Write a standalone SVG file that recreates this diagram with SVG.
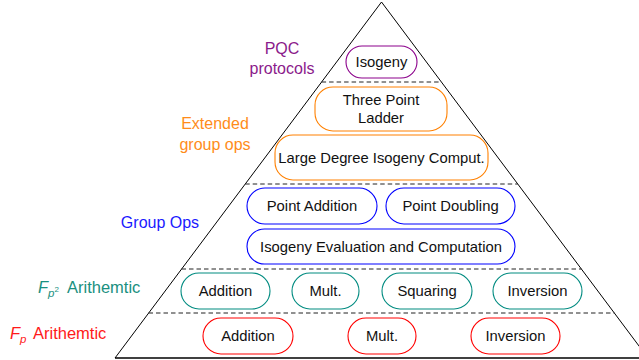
<svg xmlns="http://www.w3.org/2000/svg" width="639" height="360" viewBox="0 0 639 360">
<style>
text{font-family:"Liberation Sans",Arial,sans-serif;font-size:14.8px;fill:#111;text-anchor:middle}
.n rect{fill:none;stroke-width:1.1}
.pq rect{stroke:#8B008B}.or rect{stroke:#FF8000}.bl rect{stroke:#0000FF}.tl rect{stroke:#008B80}.rd rect{stroke:#FF0000}
.lab{font-size:16px}
.lab2{font-size:16.5px}
.dash{stroke:#222;stroke-width:1;stroke-dasharray:4.5 3;fill:none}
.it{font-style:italic}
</style>
<rect width="639" height="360" fill="#fff"/>
<g id="pyramid">
<polyline points="115,358 381.5,2 648,358" fill="none" stroke="#000" stroke-width="1"/>
<line x1="115" y1="358" x2="639" y2="358" stroke="#000" stroke-width="1.3"/>
<line class="dash" x1="321.6" y1="82" x2="441.4" y2="82"/>
<line class="dash" x1="245.2" y1="184" x2="517.8" y2="184"/>
<line class="dash" x1="181.5" y1="269" x2="581.5" y2="269"/>
<line class="dash" x1="148.5" y1="313" x2="614.5" y2="313"/>
</g>
<g id="labels">
<text class="lab" x="282" y="54" style="fill:#8B1A8B">PQC</text>
<text class="lab" x="282" y="74" style="fill:#8B1A8B">protocols</text>
<text class="lab" x="215" y="129" style="fill:#FF8C1A">Extended</text>
<text class="lab" x="215" y="150" style="fill:#FF8C1A">group ops</text>
<text class="lab" x="160" y="228" style="fill:#1A1AFF">Group Ops</text>
<text class="lab2" x="38" y="293" style="fill:#1A9080;text-anchor:start"><tspan class="it">F</tspan><tspan class="it" font-size="11.5" dy="4">p</tspan><tspan font-size="8" dy="-5.5">2</tspan><tspan x="67" dy="1.5">Arithemtic</tspan></text>
<text class="lab2" x="10" y="339" style="fill:#FF1A1A;text-anchor:start"><tspan class="it">F</tspan><tspan class="it" font-size="11.5" dy="4">p</tspan><tspan x="33" dy="-4">Arithemtic</tspan></text>
</g>
<g id="n-isogeny" class="n pq"><rect x="346" y="46" width="71" height="32" rx="16"/><text x="381.5" y="67">Isogeny</text></g>
<g id="n-ladder" class="n or"><rect x="315" y="87" width="132" height="44" rx="18"/><text x="381" y="105">Three Point</text><text x="381" y="123">Ladder</text></g>
<g id="n-large" class="n or"><rect x="275" y="135" width="213" height="45" rx="18"/><text x="381.5" y="162.5">Large Degree Isogeny Comput.</text></g>
<g id="n-padd" class="n bl"><rect x="247" y="188" width="130" height="36" rx="18"/><text x="312" y="211">Point Addition</text></g>
<g id="n-pdbl" class="n bl"><rect x="386" y="188" width="129" height="36" rx="18"/><text x="450.5" y="211">Point Doubling</text></g>
<g id="n-iso" class="n bl"><rect x="247" y="229" width="268" height="35" rx="17.5"/><text x="381" y="251.5">Isogeny Evaluation and Computation</text></g>
<g id="n-f2add" class="n tl"><rect x="181" y="273" width="89" height="36" rx="18"/><text x="225.5" y="296">Addition</text></g>
<g id="n-f2mul" class="n tl"><rect x="292" y="273" width="67" height="36" rx="18"/><text x="325.5" y="296">Mult.</text></g>
<g id="n-f2sq" class="n tl"><rect x="382" y="273" width="90" height="36" rx="18"/><text x="427" y="296">Squaring</text></g>
<g id="n-f2inv" class="n tl"><rect x="493" y="273" width="89" height="36" rx="18"/><text x="537.5" y="296">Inversion</text></g>
<g id="n-fadd" class="n rd"><rect x="203" y="318" width="90" height="36" rx="18"/><text x="248" y="341">Addition</text></g>
<g id="n-fmul" class="n rd"><rect x="348" y="318" width="68" height="36" rx="18"/><text x="382" y="341">Mult.</text></g>
<g id="n-finv" class="n rd"><rect x="471" y="318" width="89" height="36" rx="18"/><text x="515.5" y="341">Inversion</text></g>
<g id="connectors"></g>
</svg>
